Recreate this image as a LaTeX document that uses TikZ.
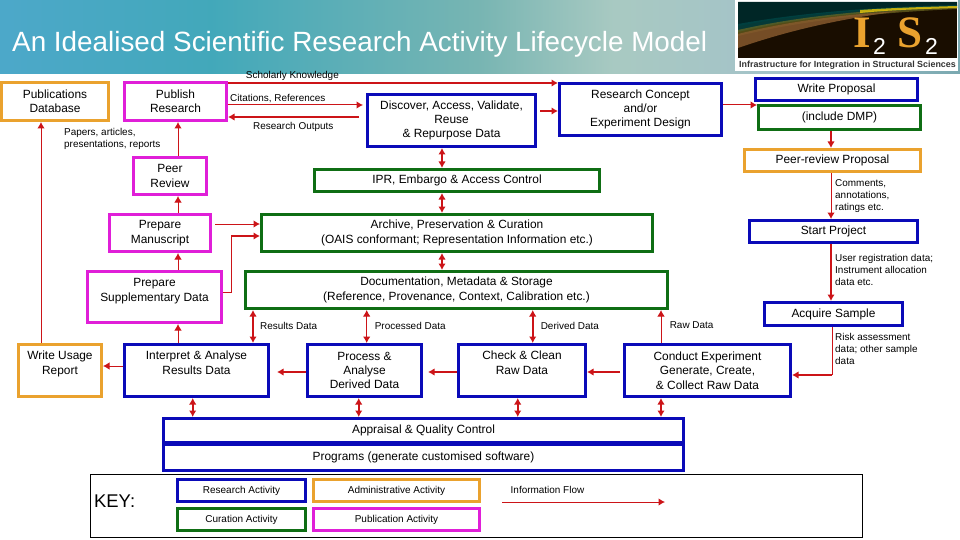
\documentclass[tikz,border=0pt]{standalone}
\usepackage{fontspec}
\setmainfont{Liberation Sans}
\newfontfamily\logofont{Liberation Serif}
\usetikzlibrary{arrows.meta}
\definecolor{resblue}{HTML}{0A0AB8}
\definecolor{curgreen}{HTML}{0F6E14}
\definecolor{admorange}{HTML}{EAA22E}
\definecolor{pubmag}{HTML}{E01FD8}
\definecolor{flowred}{HTML}{CC1418}
\pgfdeclarehorizontalshading{hdr}{100bp}{
 rgb(0bp)=(0.32,0.70,0.92);
 rgb(12bp)=(0.23,0.59,0.80);
 rgb(25bp)=(0.30,0.66,0.79);
 rgb(36bp)=(0.26,0.66,0.73);
 rgb(50bp)=(0.47,0.71,0.70);
 rgb(57bp)=(0.66,0.79,0.76);
 rgb(66bp)=(0.64,0.76,0.79);
 rgb(76bp)=(0.46,0.65,0.68);
 rgb(100bp)=(0.60,0.78,0.82)}
\tikzset{
 x=1pt,y=-1pt,
 >={Latex[length=6.5pt,width=7.5pt]},
 actbox/.style={draw,line width=3pt,fill=white,inner sep=0pt,align=center,
   font=\fontsize{11.9}{14.4}\selectfont},
 keybox/.style={actbox,line width=2.6pt,font=\fontsize{10}{11}\selectfont},
 res/.style={draw=resblue},
 cur/.style={draw=curgreen},
 adm/.style={draw=admorange},
 pub/.style={draw=pubmag},
 small/.style={inner sep=0pt,align=left,anchor=west,font=\fontsize{9.95}{12}\selectfont},
 flow/.style={flowred,line width=1pt,->},
 bflow/.style={flowred,line width=2.2pt,->},
 dflow/.style={flowred,line width=1pt,<->},
 bdflow/.style={flowred,line width=2.2pt,<->},
 flowline/.style={flowred,line width=1pt},
}
\newcommand{\actnode}[7][actbox]{%
 \node[#1,#3,minimum width={(#6-#4-3)*1pt},minimum height={(#7-#5-3)*1pt}]
   (#2) at ({(#4+#6)/2},{(#5+#7)/2}) {\acttext};}
\begin{document}
\begin{tikzpicture}
\useasboundingbox (0,0) rectangle (960,540);
\fill[white] (0,0) rectangle (960,540);
% header band
\shade[shading=hdr] (0,0) rectangle (960,74);
\node (title) [anchor=base west,inner sep=0pt,text=white,font=\fontsize{27.85}{30}\selectfont] at (12,51.5)
  {An Idealised Scientific Research Activity Lifecycle Model};
% logo
\fill[white] (735,0) rectangle (958,71);
\fill[black!90!orange] (738,2) rectangle (957,58);
\begin{scope}
\clip (738,2) rectangle (957,58);
\fill[black!70!teal] (738,2) -- (957,2) -- (957,6) .. controls (860,9) and (800,14) .. (738,26) -- cycle;
\fill[black!45!teal,opacity=.8] (738,24) .. controls (800,13) and (870,7) .. (957,5)
  -- (957,8) .. controls (870,11) and (800,17) .. (738,32) -- cycle;
\fill[olive!70!black,opacity=.7] (738,30) .. controls (800,16) and (870,9) .. (957,7)
  -- (957,9) .. controls (870,13) and (800,21) .. (738,36) -- cycle;
\fill[brown!70!black,opacity=.85] (738,34) .. controls (790,21) and (840,15) .. (900,11)
  .. controls (840,19) and (790,30) .. (738,48) -- cycle;
\fill[yellow!70!orange,opacity=.75] (860,10) .. controls (890,8) and (920,7) .. (957,6)
  -- (957,8) .. controls (920,9) and (890,10) .. (860,13) -- cycle;
\end{scope}
\node (logoI) [inner sep=0pt,text=admorange,font=\logofont\bfseries\fontsize{45}{45}\selectfont,anchor=base west] at (853,48) {I};
\node (logoA) [inner sep=0pt,text=white,font=\fontsize{23}{23}\selectfont,anchor=base west] at (873,55) {2};
\node (logoS) [inner sep=0pt,text=admorange,font=\logofont\bfseries\fontsize{45}{45}\selectfont,anchor=base west] at (897,48) {S};
\node (logoB) [inner sep=0pt,text=white,font=\fontsize{23}{23}\selectfont,anchor=base west] at (925,55) {2};
\node (logotext) [inner sep=0pt,font=\bfseries\fontsize{8.9}{10}\selectfont,text=black!80] at (847.5,65)
  {Infrastructure for Integration in Structural Sciences};
% activity boxes
\def\acttext{Publications\\Database}\actnode{pdb}{adm}{0}{81}{110}{122}
\def\acttext{Publish\\Research}\actnode{pubres}{pub}{123}{81}{228}{122}
\def\acttext{Peer\\Review}\actnode{peer}{pub}{132}{156}{208}{196}
\def\acttext{Prepare\\Manuscript}\actnode{manu}{pub}{108}{213}{212}{253}
\def\acttext{Prepare\\Supplementary Data\\~}\actnode{supp}{pub}{86}{270}{223}{324}
\def\acttext{Discover, Access, Validate,\\Reuse\\\& Repurpose Data}\actnode{disc}{res}{366}{93}{537}{148}
\def\acttext{IPR, Embargo \& Access Control}\actnode{ipr}{cur}{313}{168}{601}{193}
\def\acttext{Archive, Preservation \& Curation\\(OAIS conformant; Representation Information etc.)}\actnode{arch}{cur}{260}{213}{654}{253}
\def\acttext{Documentation, Metadata \& Storage\\(Reference, Provenance, Context, Calibration etc.)}\actnode{docu}{cur}{244}{270}{669}{310}
\def\acttext{Research Concept\\and/or\\Experiment Design}\actnode{concept}{res}{558}{82}{723}{137}
\def\acttext{Write Proposal}\actnode{write}{res}{754}{77}{919}{102}
\def\acttext{(include DMP)}\actnode{dmp}{cur}{757}{104}{922}{131}
\def\acttext{Peer-review Proposal}\actnode{prp}{adm}{743}{148}{922}{173}
\def\acttext{Start Project}\actnode{start}{res}{748}{219}{919}{244}
\def\acttext{Acquire Sample}\actnode{acq}{res}{763}{301}{904}{327}
\def\acttext{Write Usage\\Report\\[1.5pt]~}\actnode{usage}{adm}{17}{343}{103}{398}
\def\acttext{Interpret \& Analyse\\Results Data\\[1.5pt]~}\actnode{interp}{res}{123}{343}{270}{398}
\def\acttext{Process \&\\Analyse\\Derived Data}\actnode{proc}{res}{306}{343}{423}{398}
\def\acttext{Check \& Clean\\Raw Data\\[1.5pt]~}\actnode{check}{res}{457}{343}{587}{398}
\def\acttext{Conduct Experiment\\Generate, Create,\\\& Collect Raw Data}\actnode{cond}{res}{623}{343}{792}{398}
\def\acttext{Appraisal \& Quality Control}\actnode{appr}{res}{162}{417}{685}{444}
\def\acttext{Programs (generate customised software)}\actnode{prog}{res}{162}{443}{685}{472}
% key
\node (keyframe) [draw=black,line width=.8pt,minimum width=772pt,minimum height=63pt,inner sep=0pt] at (476,505.5) {};
\node (keytitle) [inner sep=0pt,anchor=west,font=\fontsize{18.4}{20}\selectfont] at (94,501) {KEY:};
\def\acttext{Research Activity}\actnode[keybox]{kres}{res}{176}{478}{307}{503}
\def\acttext{Curation Activity}\actnode[keybox]{kcur}{cur}{176}{507}{307}{532}
\def\acttext{Administrative Activity}\actnode[keybox]{kadm}{adm}{312}{478}{481}{503}
\def\acttext{Publication Activity}\actnode[keybox]{kpub}{pub}{312}{507}{481}{532}
\node (kflow) [small] at (510.5,489.6) {Information Flow};
\coordinate (kflowa) at (502,502);
\coordinate (kflowb) at (665,502);
\draw[flow] (kflowa) -- (kflowb);
% labels
\node (lscholar) [small] at (245.7,76) {Scholarly Knowledge};
\node (lcite) [small] at (230,98.7) {Citations, References};
\node (lout) [small] at (253,126.7) {Research Outputs};
\node (lpapers) [small] at (64,138.7) {Papers, articles,\\presentations, reports};
\node (lcomm) [small] at (835,196) {Comments,\\annotations,\\ratings etc.};
\node (luser) [small] at (835,270) {User registration data;\\Instrument allocation\\data etc.};
\node (lrisk) [small] at (835,349) {Risk assessment\\data; other sample\\data};
\node (lresults) [small] at (260,325.6) {Results Data};
\node (lproc) [small] at (374.6,325.6) {Processed Data};
\node (lderived) [small] at (540.6,325.6) {Derived Data};
\node (lraw) [small] at (669.6,325.6) {Raw Data};
% connectors: top row
\draw[bflow] (pubres.east |- 0,83) -- (concept.west |- 0,83);
\draw[flow,shorten >=3pt] (pubres.east |- 0,105) -- (disc.west |- 0,105);
\draw[bflow,shorten <=7pt] (disc.west |- 0,117) -- (pubres.east |- 0,117);
\draw[bflow,shorten <=3pt] (disc.east |- 0,111) -- (concept.west |- 0,111);
\draw[flow] (concept.east |- 0,105) -- (dmp.west |- 0,105);
% right column
\draw[bflow] (dmp.south -| 831,0) -- (prp.north -| 831,0);
\draw[flow] (prp.south -| 831,0) -- (start.north -| 831,0);
\draw[flow,line width=1.4pt] (start.south -| 831,0) -- (acq.north -| 831,0);
\draw[flowline] (acq.south -| 832,0) -- (832,375);
\draw[bflow] (832,375) -- (cond.east |- 0,375);
% middle row
\draw[bflow,shorten <=3pt] (cond.west |- 0,372) -- (check.east |- 0,372);
\draw[bflow,shorten >=5pt] (check.west |- 0,372) -- (proc.east |- 0,372);
\draw[bflow,shorten >=7pt] (proc.west |- 0,372) -- (interp.east |- 0,372);
\draw[flow] (interp.west |- 0,366) -- (usage.east |- 0,366);
\draw[flow] (usage.north -| 41,0) -- (pdb.south -| 41,0);
% publication chain
\draw[flow] (interp.north -| 178,0) -- (supp.south -| 178,0);
\draw[flow] (supp.north -| 178,0) -- (manu.south -| 178,0);
\draw[flow] (manu.north -| 178,0) -- (peer.south -| 178,0);
\draw[flow] (peer.north -| 178,0) -- (pubres.south -| 178,0);
\draw[flow,shorten <=3pt] (manu.east |- 0,224) -- (arch.west |- 0,224);
\draw[flowline] (supp.east |- 0,292) -- (231,292) -- (231,236);
\draw[bflow] (231,236) -- (arch.west |- 0,236);
% data flows
\draw[bdflow] (interp.north -| 253,0) -- (docu.south -| 253,0);
\draw[dflow] (proc.north -| 366.7,0) -- (docu.south -| 366.7,0);
\draw[bdflow] (check.north -| 532.7,0) -- (docu.south -| 532.7,0);
\draw[flow] (cond.north -| 661,0) -- (docu.south -| 661,0);
% curation column
\draw[bdflow] (disc.south -| 442,0) -- (ipr.north -| 442,0);
\draw[bdflow] (ipr.south -| 442,0) -- (arch.north -| 442,0);
\draw[bdflow] (arch.south -| 442,0) -- (docu.north -| 442,0);
% appraisal
\draw[bdflow] (interp.south -| 192.7,0) -- (appr.north -| 192.7,0);
\draw[bdflow] (proc.south -| 358.7,0) -- (appr.north -| 358.7,0);
\draw[bdflow] (check.south -| 517.7,0) -- (appr.north -| 517.7,0);
\draw[bdflow] (cond.south -| 661,0) -- (appr.north -| 661,0);
\end{tikzpicture}
\end{document}
